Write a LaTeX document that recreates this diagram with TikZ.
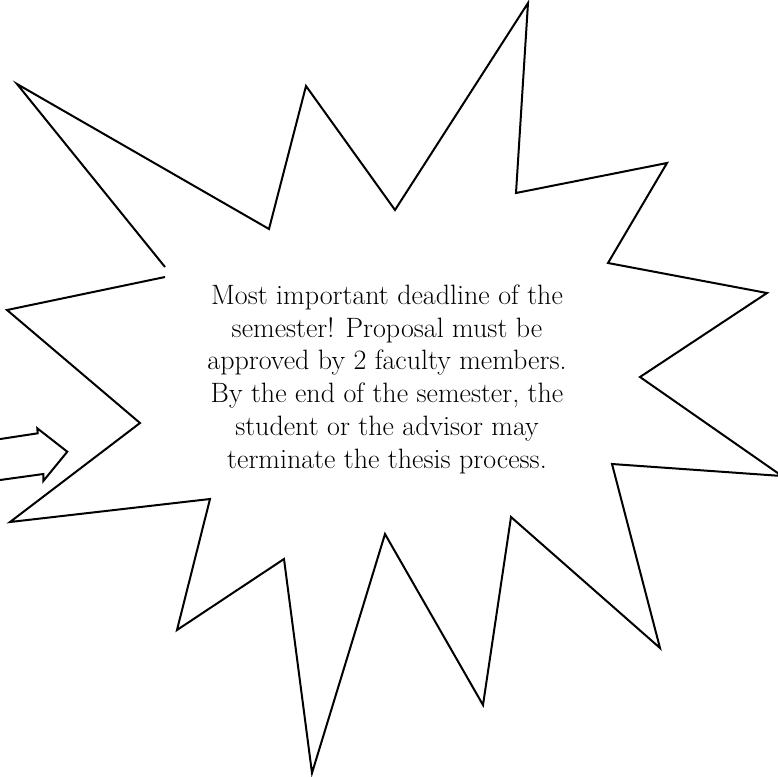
\documentclass[tikz,border=0pt]{standalone}
\usepackage{fontspec}
\begin{document}
\begin{tikzpicture}[x=0.75pt,y=-0.75pt,
  outline/.style={draw=black,line width=1.5pt,line join=miter},
  txt/.style={anchor=base,inner sep=0pt,font=\fontsize{21}{25}\selectfont}]
\useasboundingbox (0,0) rectangle (778,776);
% burst outline (open where it meets the text area)
\draw[outline] (165,277) -- (7,310) -- (140,423) -- (10,522) -- (210,499)
  -- (177,630) -- (284,559) -- (312,773) -- (385,534) -- (483,705)
  -- (511,517) -- (660,648) -- (612,464) -- (782,476) -- (640,377)
  -- (767,293) -- (608,263) -- (667,163) -- (516,193) -- (528,3)
  -- (395,210) -- (306,86) -- (269,229) -- (17,84) -- (165,267);
% block arrow
\draw[outline] (-5,439.8) -- (37.7,433.3) -- (37.3,428.3) -- (67.3,451.7)
  -- (43.3,481) -- (43.3,474) -- (-5,480.7);
\node[txt] (l1) at (387,304) {Most important deadline of the};
\node[txt] (l2) at (387,337) {semester! Proposal must be};
\node[txt] (l3) at (387,369) {approved by 2 faculty members.};
\node[txt] (l4) at (387,402) {By the end of the semester, the};
\node[txt] (l5) at (387,435) {student or the advisor may};
\node[txt] (l6) at (387,468) {terminate the thesis process.};
\end{tikzpicture}
\end{document}
